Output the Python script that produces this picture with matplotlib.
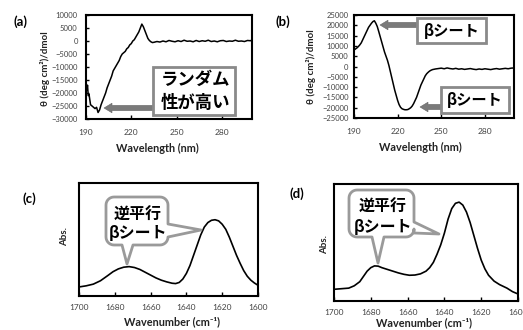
import matplotlib
matplotlib.use("Agg")
import matplotlib.pyplot as plt
import numpy as np
from matplotlib.patches import Polygon, Rectangle

plt.rcParams['font.family'] = ['Lato', 'Noto Sans CJK JP', 'DejaVu Sans']

# ---------------- data ----------------
wl_a = [190, 190.5, 191, 191.5, 192, 193, 194, 195, 196, 197, 198, 199, 200, 201, 202, 203,
        204, 205, 206, 207, 208, 209, 210, 211, 212, 213, 214, 215, 216, 217, 218, 219, 220,
        221, 222, 223, 224, 225, 226, 227, 228, 229, 230, 231, 232, 233, 234, 235, 237, 239,
        241, 243, 245, 247, 249, 251, 253, 255, 257, 259, 261, 263, 265, 267, 269, 271, 273,
        275, 277, 279, 281, 283, 285, 287, 289, 291, 293, 295, 297, 299, 300]
cd_a = [-15000, -19000, -17000, -21000, -20500, -24500, -25000, -25500, -26000, -25500, -27500,
        -26500, -24500, -23000, -21500, -20000, -18000, -16500, -15000, -13500, -11500, -10500,
        -9500, -8500, -7500, -6000, -5000, -4500, -4000, -3000, -2500, -1500, -1000, 0, 500,
        1500, 2500, 3500, 5000, 6500, 5500, 4000, 2500, 1000, 200, -300, -600, -500, -200,
        -400, 0, -300, 200, -100, -300, 100, -200, 300, -100, 0, -300, 200, -200, 100, -100,
        300, -200, 0, -300, 100, 200, -200, 0, -100, 300, -100, 0, -200, 200, 100, 400]

wl_b = [190, 191, 192, 193, 194, 195, 196, 197, 198, 199, 200, 201, 202, 203, 204, 205, 206,
        207, 208, 209, 210, 211, 212, 213, 214, 215, 216, 217, 218, 219, 220, 221, 222, 223,
        224, 225, 226, 227, 228, 229, 230, 231, 232, 233, 234, 235, 236, 237, 238, 239, 240,
        241, 242, 243, 244, 246, 248, 250, 252, 254, 256, 258, 260, 262, 264, 266, 268, 270,
        272, 274, 276, 278, 280, 282, 284, 286, 288, 290, 292, 294, 296, 298, 300]
cd_b = [8000, 8500, 9000, 9700, 10500, 11500, 13000, 14500, 16000, 17500, 19000, 20000, 21000,
        21800, 22200, 21000, 19400, 17000, 14500, 12000, 9500, 7000, 5000, 3000, 500, -2500,
        -5500, -8500, -11500, -14000, -16500, -18500, -19800, -20500, -20800, -21000, -21000,
        -20900, -20500, -20000, -19200, -18000, -16500, -15000, -13000, -11000, -9000, -7500,
        -6000, -4500, -3500, -2800, -2200, -1800, -1500, -1200, -1000, -800, -1100, -700,
        -1000, -1200, -900, -1300, -1100, -1400, -1200, -1000, -1300, -1500, -1200, -1400,
        -1100, -1300, -1500, -1200, -1000, -1300, -1100, -900, -1100, -800, -700]

wn_c = [1700, 1696, 1692, 1688, 1684, 1681, 1678, 1675, 1672, 1669, 1666, 1663, 1660, 1657,
        1654, 1651, 1648, 1646, 1644, 1642, 1640, 1638, 1636, 1634, 1632, 1630, 1628, 1626,
        1624, 1622, 1620, 1618, 1616, 1614, 1612, 1610, 1608, 1606, 1604, 1602, 1600]
abs_c = [0.080, 0.090, 0.105, 0.135, 0.180, 0.215, 0.240, 0.255, 0.260, 0.252, 0.235, 0.210,
         0.185, 0.160, 0.140, 0.125, 0.113, 0.110, 0.120, 0.150, 0.200, 0.270, 0.360, 0.450,
         0.540, 0.610, 0.650, 0.670, 0.675, 0.665, 0.635, 0.590, 0.520, 0.440, 0.360, 0.290,
         0.225, 0.175, 0.140, 0.115, 0.095]

wn_d = [1700, 1696, 1692, 1689, 1686, 1684, 1682, 1680, 1678, 1676, 1674, 1671, 1668, 1665,
        1662, 1659, 1656, 1653, 1650, 1648, 1646, 1644, 1642, 1640, 1638, 1636, 1634, 1632,
        1630, 1628, 1626, 1624, 1622, 1620, 1618, 1616, 1613, 1610, 1606, 1603, 1600]
abs_d = [0.100, 0.105, 0.110, 0.130, 0.165, 0.210, 0.255, 0.285, 0.300, 0.298, 0.285, 0.270,
         0.255, 0.240, 0.228, 0.220, 0.222, 0.232, 0.255, 0.285, 0.330, 0.400, 0.480, 0.580,
         0.700, 0.790, 0.835, 0.845, 0.820, 0.760, 0.670, 0.560, 0.450, 0.350, 0.275, 0.220,
         0.170, 0.140, 0.110, 0.080, 0.060]

cd_xticks = [190, 220, 250, 280]
a_yticks = list(range(-30000, 10001, 5000))
b_yticks = list(range(-25000, 25001, 5000))
ir_xticks = [1700, 1680, 1660, 1640, 1620, 1600]

cd_ylabel = 'θ (deg cm²)/dmol'
cd_xlabel = 'Wavelength (nm)'
ir_xlabel = 'Wavenumber (cm⁻¹)'
ir_ylabel = 'Abs.'

# ---------------- figure ----------------
W, H = 523, 330
fig = plt.figure(figsize=(W / 100, H / 100), dpi=100)


def fr(x, y):
    return (x / W, 1 - y / H)


def make_ax(x0, y0, x1, y1):
    return fig.add_axes([x0 / W, 1 - y1 / H, (x1 - x0) / W, (y1 - y0) / H])


tick_col = '#444444'
tick_fs = 6
lab_fs = 7.8
lab_col = '#222222'


def style(ax):
    for s in ax.spines.values():
        s.set_linewidth(1.5)
        s.set_color('black')
    ax.tick_params(axis='x', direction='in', length=3, width=1, colors='black',
                   labelcolor=tick_col, labelsize=tick_fs)
    ax.tick_params(axis='y', direction='in', length=2, width=1, colors='black',
                   labelcolor=tick_col, labelsize=5.5)


# (a)
axa = make_ax(86, 15, 252, 119)
axa.plot(wl_a, cd_a, color='black', lw=1.1)
axa.set_xlim(190, 300)
axa.set_ylim(-30000, 10000)
axa.set_xticks(cd_xticks)
axa.set_yticks(a_yticks)
style(axa)
axa.tick_params(axis='x', pad=7)
axa.tick_params(axis='y', pad=6)

# (b)
axb = make_ax(354, 15, 514, 118)
axb.plot(wl_b, cd_b, color='black', lw=1.1)
axb.set_xlim(190, 300)
axb.set_ylim(-25000, 25000)
axb.set_xticks(cd_xticks)
axb.set_yticks(b_yticks)
style(axb)
axb.tick_params(axis='x', pad=7)
axb.tick_params(axis='y', pad=4)

# (c)
axc = make_ax(79, 183, 258, 296)
axc.plot(wn_c, abs_c, color='black', lw=1.2)
axc.set_xlim(1700, 1600)
axc.set_ylim(0, 1)
axc.set_xticks(ir_xticks)
axc.set_yticks([])
style(axc)
axc.tick_params(axis='x', pad=6)

# (d)
axd = make_ax(334, 184, 518, 301)
axd.plot(wn_d, abs_d, color='black', lw=1.2)
axd.set_xlim(1700, 1600)
axd.set_ylim(0, 1)
axd.set_xticks(ir_xticks)
axd.set_yticks([])
style(axd)
axd.tick_params(axis='x', pad=6)


# axis labels (figure coordinates)
def ftext(x, y, s, **kw):
    fig.text(*fr(x, y), s, ha='center', va='center', **kw)


ftext(157, 148, cd_xlabel, fontsize=lab_fs, fontweight='bold', color=lab_col)
ftext(420, 147, cd_xlabel, fontsize=lab_fs, fontweight='bold', color=lab_col)
ftext(172, 322, ir_xlabel, fontsize=lab_fs, fontweight='bold', color=lab_col)
ftext(424, 323, ir_xlabel, fontsize=lab_fs, fontweight='bold', color=lab_col)
ftext(45, 69, cd_ylabel, fontsize=7, fontweight='bold', rotation=90, color=lab_col)
ftext(311, 67, cd_ylabel, fontsize=7, fontweight='bold', rotation=90, color=lab_col)
ftext(65, 237, ir_ylabel, fontsize=7, fontweight='bold', rotation=90, color=lab_col)
ftext(325, 245, ir_ylabel, fontsize=7, fontweight='bold', rotation=90, color=lab_col)

# panel labels
for (x, y, s) in [(21, 22, '(a)'), (283, 22, '(b)'), (29, 199, '(c)'), (297, 194, '(d)')]:
    ftext(x, y, s, fontsize=9.5, fontweight='bold')

jp = ['Noto Sans CJK JP', 'DejaVu Sans']
arrow_col = '#7a7a7a'
box_col = '#8a8a8a'


def arrow(x_tail, x_tip, y, sh=2.6, hh=4.8, hl=8):
    pts = [(x_tail, y - sh), (x_tip + hl, y - sh), (x_tip + hl, y - hh), (x_tip, y),
           (x_tip + hl, y + hh), (x_tip + hl, y + sh), (x_tail, y + sh)]
    fig.patches.append(Polygon([fr(*p) for p in pts], closed=True, transform=fig.transFigure,
                               facecolor=arrow_col, edgecolor='#666666', lw=0.4, zorder=5))


def box(x0, y0, x1, y1):
    fig.patches.append(Rectangle(fr(x0, y1), (x1 - x0) / W, (y1 - y0) / H,
                                 transform=fig.transFigure, facecolor='white',
                                 edgecolor=box_col, lw=2.0, zorder=6))


# (a) annotation
arrow(160, 104, 108)
box(153, 67, 235, 115)
fig.text(*fr(195, 80), 'ランダム', ha='center', va='center', fontsize=12.5,
         fontweight='bold', family=jp, zorder=7)
fig.text(*fr(195, 103), '性が高い', ha='center', va='center', fontsize=12.5,
         fontweight='bold', family=jp, zorder=7)

# (b) annotations
arrow(420, 380, 25)
box(417, 18, 486, 43)
fig.text(*fr(452, 31), 'βシート', ha='center', va='center', fontsize=11,
         fontweight='bold', family=jp, zorder=7)
arrow(444, 420, 107)
box(441, 87, 509, 113)
fig.text(*fr(475, 100), 'βシート', ha='center', va='center', fontsize=11,
         fontweight='bold', family=jp, zorder=7)


def bubble(x0, y0, x1, y1, r, dt, rt):
    pts = []

    def arc(cx, cy, a0, a1):
        for t in np.linspace(np.radians(a0), np.radians(a1), 8):
            pts.append((cx + r * np.cos(t), cy + r * np.sin(t)))

    arc(x1 - r, y0 + r, -90, 0)
    pts += [(x1, rt[0]), (rt[2], rt[3]), (x1, rt[1])]
    arc(x1 - r, y1 - r, 0, 90)
    pts += [(dt[1], y1), (dt[2], dt[3]), (dt[0], y1)]
    arc(x0 + r, y1 - r, 90, 180)
    arc(x0 + r, y0 + r, 180, 270)
    fig.patches.append(Polygon([fr(*p) for p in pts], closed=True, transform=fig.transFigure,
                               facecolor='white', edgecolor='#9a9a9a', lw=2.0, zorder=6,
                               joinstyle='round'))


bubble(106, 197, 168, 245, 8, (122, 133, 127, 264), (224, 237, 201, 230))
fig.text(*fr(138, 215), '逆平行', ha='center', va='center', fontsize=11.5,
         fontweight='bold', family=jp, zorder=7)
fig.text(*fr(138, 233), 'βシート', ha='center', va='center', fontsize=11.5,
         fontweight='bold', family=jp, zorder=7)

bubble(349, 190, 414, 237, 8, (372, 384, 378, 263), (222, 233, 439, 234))
fig.text(*fr(383, 207), '逆平行', ha='center', va='center', fontsize=11.5,
         fontweight='bold', family=jp, zorder=7)
fig.text(*fr(383, 227), 'βシート', ha='center', va='center', fontsize=11.5,
         fontweight='bold', family=jp, zorder=7)

fig.savefig('out.png', dpi=100)
